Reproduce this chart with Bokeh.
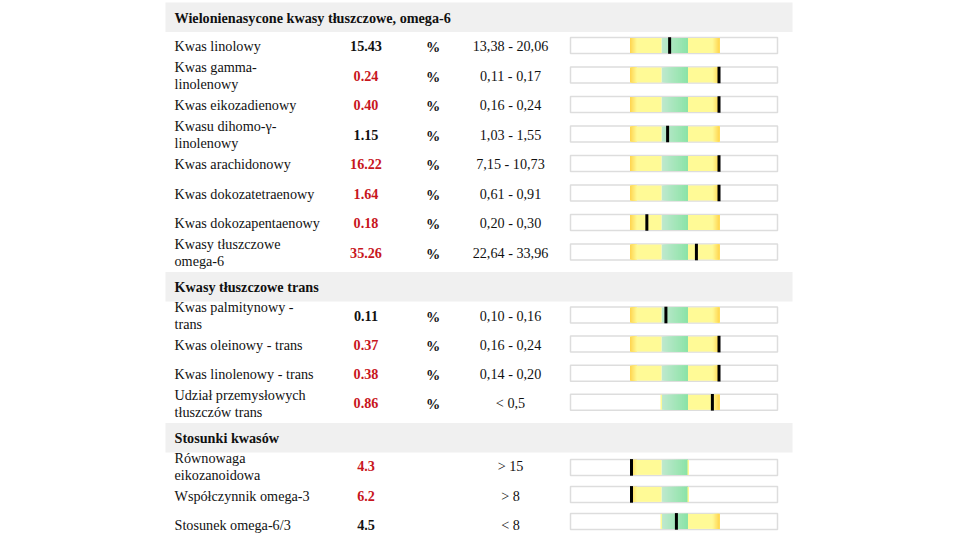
from bokeh.plotting import figure
from bokeh.models import Range1d, ColumnDataSource
from bokeh.core.properties import value
from bokeh.embed import file_html
from bokeh.resources import INLINE

# ---------------- data ----------------
section_titles = ["Wielonienasycone kwasy tłuszczowe, omega-6",
                  "Kwasy tłuszczowe trans",
                  "Stosunki kwasów"]

omega6_labels = ["Kwas linolowy", "Kwas gamma-\nlinolenowy", "Kwas eikozadienowy",
                 "Kwasu dihomo-γ-\nlinolenowy", "Kwas arachidonowy", "Kwas dokozatetraenowy",
                 "Kwas dokozapentaenowy", "Kwasy tłuszczowe\nomega-6"]
omega6_values = [15.43, 0.24, 0.40, 1.15, 16.22, 1.64, 0.18, 35.26]
omega6_low = [13.38, 0.11, 0.16, 1.03, 7.15, 0.61, 0.20, 22.64]
omega6_high = [20.06, 0.17, 0.24, 1.55, 10.73, 0.91, 0.30, 33.96]
omega6_band = [0.43, 0.43, 0.43, 0.43, 0.43, 0.43, 0.43, 0.43]

trans_labels = ["Kwas palmitynowy -\ntrans", "Kwas oleinowy - trans",
                "Kwas linolenowy - trans", "Udział przemysłowych\ntłuszczów trans"]
trans_values = [0.11, 0.37, 0.38, 0.86]
trans_low = [0.10, 0.16, 0.14, None]
trans_high = [0.16, 0.24, 0.20, 0.5]
trans_band = [0.43, 0.43, 0.43, 0.93]

ratio_labels = ["Równowaga\neikozanoidowa", "Współczynnik omega-3", "Stosunek omega-6/3"]
ratio_values = [4.3, 6.2, 4.5]
ratio_low = [15, 8, None]
ratio_high = [None, None, 8]
ratio_band = [0.2, 0.2, 0.36]

sections = [
    dict(labels=omega6_labels, values=omega6_values, low=omega6_low, high=omega6_high,
         band=omega6_band, unit="%", fmt="{:.2f}", pitch=29.5, gpitch=29.5, goff=-0.5),
    dict(labels=trans_labels, values=trans_values, low=trans_low, high=trans_high,
         band=trans_band, unit="%", fmt="{:.2f}", pitch=29.3, gpitch=29.1, goff=-0.5),
    dict(labels=ratio_labels, values=ratio_values, low=ratio_low, high=ratio_high,
         band=ratio_band, unit="", fmt="{:.1f}", pitch=29.5, gpitch=27.0, goff=1.0),
]

# ---------------- layout / style ----------------
FONT = value("Liberation Serif")
FS = "14.2px"
RED = "#c8161d"
BLACK = "#111111"
BAND_COLOR = "#f0f0f0"
YELLOW = (255, 250, 150)
ORANGE = (255, 212, 78)
GREEN_L = (192, 233, 207)
GREEN_R = (138, 227, 166)

X_LABEL, X_VALUE, X_UNIT, X_RANGE = 174, 365.5, 432.5, 510
BAND_L, BAND_R = 165, 792
BOX_L, BOX_R = 570, 777
G0, GW, YW = 661, 26.5, 31.5
LINE_GAP = 17


def mix(c1, c2, t):
    return "#%02x%02x%02x" % tuple(int(round(a + (b - a) * t)) for a, b in zip(c1, c2))


def fmt_rng(x):
    return "{:.2f}".format(x).replace(".", ",")


def fmt_thr(x):
    return "{:g}".format(x).replace(".", ",")


bands = dict(left=[], right=[], top=[], bottom=[])
head_txt = dict(x=[], y=[], text=[])
lab_txt = dict(x=[], y=[], text=[])
val_txt = dict(x=[], y=[], text=[], color=[])
unit_txt = dict(x=[], y=[], text=[])
rng_txt = dict(x=[], y=[], text=[])
boxes = dict(left=[], right=[], top=[], bottom=[])
zones = dict(left=[], right=[], top=[], bottom=[], color=[])
marks = dict(left=[], right=[], top=[], bottom=[])


def add_zone(l, r, yc, c):
    zones["left"].append(l); zones["right"].append(r)
    zones["top"].append(yc - 7.5); zones["bottom"].append(yc + 7.5)
    zones["color"].append(c)


def gradient(l, r, yc, c1, c2, n):
    # stacked slices (each reaching the right end) to avoid seams
    w = (r - l) / n
    for k in range(n):
        add_zone(l + k * w, r, yc, mix(c1, c2, (k + 0.5) / n))


def yellow_left(yc):
    add_zone(G0 - YW, G0, yc, mix(YELLOW, YELLOW, 0))
    gradient(G0 - YW, G0 - YW + 7, yc, ORANGE, YELLOW, 7)


def yellow_right(yc):
    add_zone(G0 + GW, G0 + GW + YW, yc, mix(YELLOW, YELLOW, 0))
    gradient(G0 + GW + YW - 7, G0 + GW + YW, yc, YELLOW, ORANGE, 7)


def green(yc):
    gradient(G0, G0 + GW, yc, GREEN_L, GREEN_R, 13)


y = 2.0
BAND_H = 29.5
for title, sec in zip(section_titles, sections):
    bands["left"].append(BAND_L); bands["right"].append(BAND_R)
    bands["top"].append(y); bands["bottom"].append(y + BAND_H)
    head_txt["x"].append(X_LABEL); head_txt["y"].append(y + 15.0); head_txt["text"].append(title)
    ry0 = y + BAND_H + 14
    ry = ry0
    for i, (lab, v, lo, hi, bw) in enumerate(zip(sec["labels"], sec["values"], sec["low"],
                                                 sec["high"], sec["band"])):
        ry = ry0 + i * sec["pitch"]
        gy = ry0 + sec["goff"] + i * sec["gpitch"]
        ty = ry
        lines = lab.split("\n")
        n = len(lines)
        for j, ln in enumerate(lines):
            lab_txt["x"].append(X_LABEL)
            lab_txt["y"].append(ty + (j - (n - 1) / 2) * LINE_GAP)
            lab_txt["text"].append(ln)
        if lo is not None and hi is not None:
            kind = "range"; ok = lo <= v <= hi
            t = (v - lo) / (hi - lo)
            rtext = "{} - {}".format(fmt_rng(lo), fmt_rng(hi))
        elif hi is not None:
            kind = "lt"; ok = v < hi
            t = v / hi
            rtext = "< {}".format(fmt_thr(hi))
        else:
            kind = "gt"; ok = v > lo
            t = (v - lo) / lo
            rtext = "> {}".format(fmt_thr(lo))
        val_txt["x"].append(X_VALUE); val_txt["y"].append(ty)
        val_txt["text"].append(sec["fmt"].format(v)); val_txt["color"].append(BLACK if ok else RED)
        if sec["unit"]:
            unit_txt["x"].append(X_UNIT); unit_txt["y"].append(ty + 1); unit_txt["text"].append(sec["unit"])
        rng_txt["x"].append(X_RANGE); rng_txt["y"].append(ty); rng_txt["text"].append(rtext)

        # gauge
        boxes["left"].append(BOX_L); boxes["right"].append(BOX_R)
        boxes["top"].append(gy - 8); boxes["bottom"].append(gy + 8)
        green(gy)
        if kind in ("range", "gt"):
            yellow_left(gy)
        if kind in ("range", "lt"):
            yellow_right(gy)
        if kind == "gt":
            add_zone(G0 + GW - 0.5, G0 + GW + 1, gy, mix(YELLOW, YELLOW, 0))
        if kind == "lt":
            add_zone(G0 - 1, G0 + 0.5, gy, mix(YELLOW, YELLOW, 0))
        if t < 0:
            mx = G0 + max(t / bw, -1) * YW
        elif t > 1:
            mx = G0 + GW + min((t - 1) / bw, 1) * YW
        else:
            mx = G0 + t * GW
        mx = min(max(mx, G0 - YW + 1.5), G0 + GW + YW - 0.5)
        marks["left"].append(mx - 1.5); marks["right"].append(mx + 1.5)
        marks["top"].append(gy - 8.3); marks["bottom"].append(gy + 8.3)
    y = ry + 19.5

# ---------------- figure ----------------
W, H = 944, 535
p = figure(width=W, height=H, x_range=Range1d(0, W), y_range=Range1d(H, 0),
           output_backend="svg", toolbar_location=None, min_border=0,
           x_axis_location=None, y_axis_location=None)
p.grid.visible = False
p.outline_line_color = None
p.background_fill_color = "white"
p.border_fill_color = "white"

p.quad(source=ColumnDataSource(bands), left="left", right="right", top="top", bottom="bottom",
       fill_color=BAND_COLOR, line_color=None)
p.quad(source=ColumnDataSource(boxes), left="left", right="right", top="top", bottom="bottom",
       fill_color="white", line_color="#dddddd", line_width=1.5)
p.quad(source=ColumnDataSource(zones), left="left", right="right", top="top", bottom="bottom",
       fill_color="color", line_color=None)
p.quad(source=ColumnDataSource(marks), left="left", right="right", top="top", bottom="bottom",
       fill_color="black", line_color=None)

p.text(source=ColumnDataSource(head_txt), x="x", y="y", text="text", text_font=FONT,
       text_font_size=FS, text_font_style="bold", text_color=BLACK,
       text_baseline="middle", text_align="left")
p.text(source=ColumnDataSource(lab_txt), x="x", y="y", text="text", text_font=FONT,
       text_font_size=FS, text_color=BLACK, text_baseline="middle", text_align="left")
p.text(source=ColumnDataSource(val_txt), x="x", y="y", text="text", text_font=FONT,
       text_font_size=FS, text_font_style="bold", text_color="color",
       text_baseline="middle", text_align="center")
p.text(source=ColumnDataSource(unit_txt), x="x", y="y", text="text", text_font=FONT,
       text_font_size=FS, text_font_style="bold", text_color=BLACK,
       text_baseline="middle", text_align="center")
p.text(source=ColumnDataSource(rng_txt), x="x", y="y", text="text", text_font=FONT,
       text_font_size=FS, text_color=BLACK, text_baseline="middle", text_align="center")

open("out.html", "w").write(file_html(p, INLINE))
